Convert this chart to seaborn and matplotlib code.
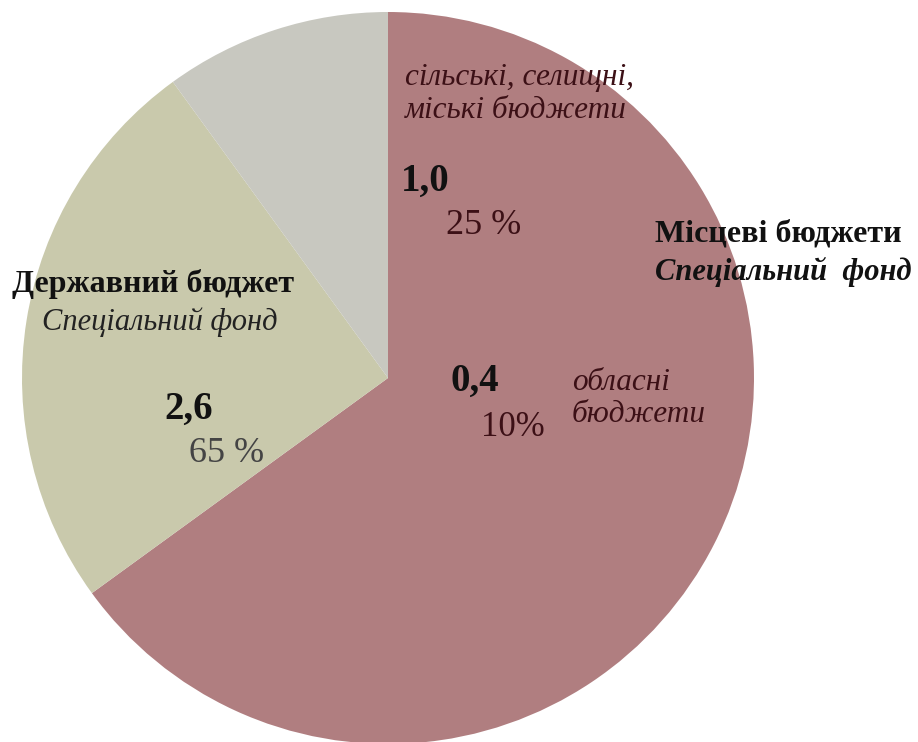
import numpy as np
import pandas as pd
import matplotlib
matplotlib.use('Agg')
import matplotlib.pyplot as plt
import seaborn as sns

# slices, clockwise from 12 o'clock
slice_names = ['Місцеві бюджети', 'Державний бюджет', 'інше']
slice_values = [65, 25, 10]
slice_colors = ['#B07E80', '#C9C9AC', '#C8C8C0']

local_values = ['1,0', '0,4']
local_shares = ['25 %', '10%']
state_value = '2,6'
state_share = '65 %'

sns.set_style('white')
plt.rcParams['font.family'] = ['Liberation Serif', 'DejaVu Serif']

W, H = 918, 742
fig = plt.figure(figsize=(W / 100, H / 100), dpi=100)
ax = fig.add_axes([0, 0, 1, 1])
ax.set_xlim(0, W)
ax.set_ylim(0, H)
ax.set_aspect('equal')
ax.axis('off')

df = pd.DataFrame({'name': slice_names, 'value': slice_values})
ax.pie(df['value'], colors=slice_colors, startangle=90, counterclock=False,
       center=(388, H - 378), radius=366, wedgeprops=dict(linewidth=0))
ax.set_xlim(0, W)
ax.set_ylim(0, H)


def txt(x, y, s, **kw):
    ax.text(x, H - y, s, va='center', ha='left', **kw)


maroon = '#3c1016'
# local budgets slice
txt(405, 78, 'сільські, селищні,', fontsize=22.5, style='italic', color=maroon)
txt(405, 111, 'міські бюджети', fontsize=22.5, style='italic', color=maroon)
txt(401, 181, local_values[0], fontsize=28, weight='bold', color='#111111')
txt(446, 225, local_shares[0], fontsize=26, color=maroon)
txt(451, 381, local_values[1], fontsize=28, weight='bold', color='#111111')
txt(481, 428, local_shares[1], fontsize=25, color=maroon)
txt(572, 382, 'обласні', fontsize=22.5, style='italic', color=maroon)
txt(572, 414, 'бюджети', fontsize=22.5, style='italic', color=maroon)
txt(655, 234, 'Місцеві бюджети', fontsize=23, weight='bold', color='#111111')
txt(655, 272, 'Спеціальний  фонд', fontsize=22, weight='bold', style='italic', color='#111111')

# state budget slice
txt(12, 284, 'Державний бюджет', fontsize=23, weight='bold', color='#111111')
txt(42, 322, 'Спеціальний фонд', fontsize=22, style='italic', color='#222222')
txt(164, 409, state_value, fontsize=28, weight='bold', color='#111111')
txt(189, 454, state_share, fontsize=26, color='#444444')

fig.savefig('out.png', dpi=100)
